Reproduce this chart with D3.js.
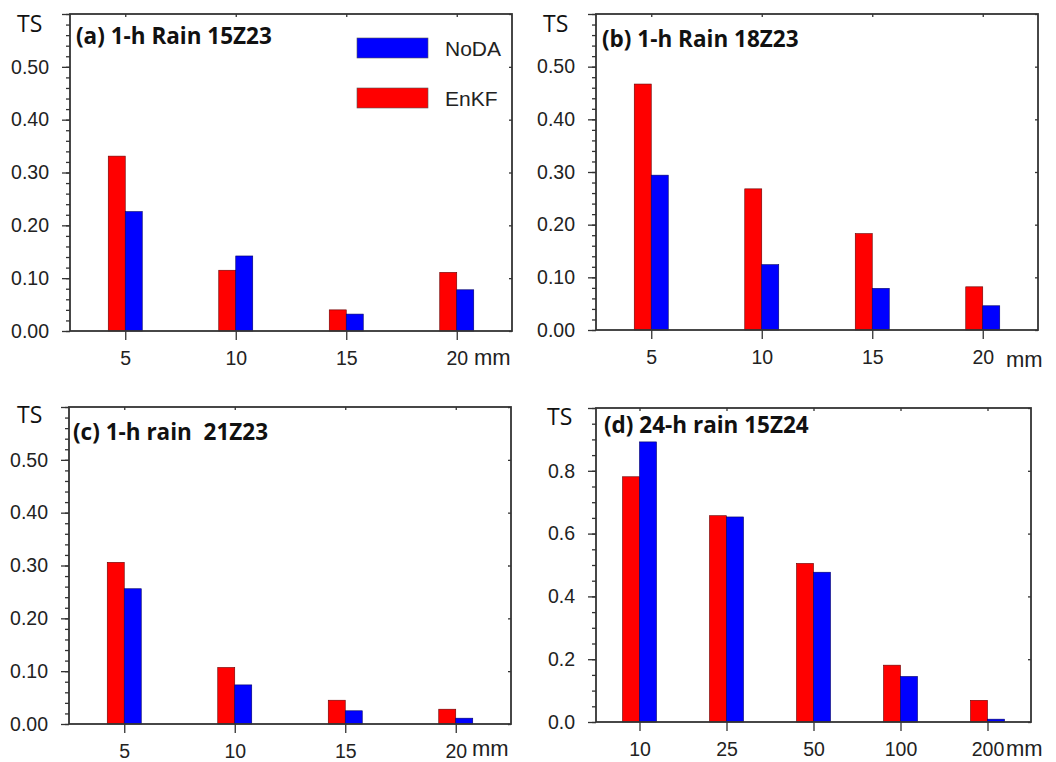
<!DOCTYPE html>
<html>
<head>
<meta charset="utf-8">
<script src="https://cdn.jsdelivr.net/npm/d3@7"></script>
<style>
  body { margin: 0; background: #fff; }
  svg { display: block; }
  .tick text { font-family: "Liberation Sans", Arial, sans-serif; font-size: 19.5px; fill: #222; }
  .tick line { stroke: #333; stroke-width: 1.3; }
  .title { font-family: "Open Sans", sans-serif; font-weight: bold; font-size: 22.5px; fill: #111; white-space: pre; }
  .ts { font-family: "Open Sans", sans-serif; font-size: 23px; fill: #111; }
  .unit { font-family: "Liberation Sans", Arial, sans-serif; font-size: 22px; fill: #222; }
  .legend { font-family: "Liberation Sans", Arial, sans-serif; font-size: 21px; fill: #222; }
</style>
</head>
<body>
<svg id="chart" width="1056" height="762"></svg>
<script>
// Thresholds (mm)
const hourThresholds = ["5", "10", "15", "20"];
const dayThresholds = ["10", "25", "50", "100", "200"];

// TS scores
const enkfA = [0.331, 0.115, 0.040, 0.111];
const nodaA = [0.226, 0.142, 0.032, 0.078];
const enkfB = [0.467, 0.268, 0.183, 0.082];
const nodaB = [0.294, 0.124, 0.079, 0.046];
const enkfC = [0.306, 0.107, 0.045, 0.028];
const nodaC = [0.256, 0.074, 0.025, 0.011];
const enkfD = [0.781, 0.657, 0.505, 0.181, 0.069];
const nodaD = [0.892, 0.653, 0.477, 0.145, 0.009];

// Y ticks
const hourMajor = [0, 0.1, 0.2, 0.3, 0.4, 0.5, 0.6];
const hourMinor = d3.range(0, 0.601, 0.02);
const dayMajor = [0, 0.2, 0.4, 0.6, 0.8, 1.0];
const dayMinor = d3.range(0, 1.001, 0.05);

const seriesNames = ["NoDA", "EnKF"];
const colors = { EnKF: "#ff0000", NoDA: "#0000ff" };

const panels = [
    { title: "(a) 1-h Rain 15Z23", cats: hourThresholds, enkf: enkfA, noda: nodaA,
      major: hourMajor, minor: hourMinor, fmt: d3.format(".2f"), ymax: 0.6,
      box: [70, 14, 512, 331], titlePos: [76, 44], tsPos: [17, 32], unit: [474, 365], legend: true },
    { title: "(b) 1-h Rain 18Z23", cats: hourThresholds, enkf: enkfB, noda: nodaB,
      major: hourMajor, minor: hourMinor, fmt: d3.format(".2f"), ymax: 0.6,
      box: [596, 14, 1038, 330], titlePos: [602, 47], tsPos: [543, 32], unit: [1006, 367] },
    { title: "(c) 1-h rain  21Z23", cats: hourThresholds, enkf: enkfC, noda: nodaC,
      major: hourMajor, minor: hourMinor, fmt: d3.format(".2f"), ymax: 0.6,
      box: [69, 407, 511, 724], titlePos: [73, 440], tsPos: [17, 423], unit: [472, 756] },
    { title: "(d) 24-h rain 15Z24", cats: dayThresholds, enkf: enkfD, noda: nodaD,
      major: dayMajor, minor: dayMinor, fmt: d3.format(".1f"), ymax: 1.0,
      box: [596, 408, 1031, 722], titlePos: [604, 433], tsPos: [547, 425], unit: [1006, 756] }
];

const svg = d3.select("#chart");
const barW = 17;

panels.forEach(p => {
    const [x0, y0, x1, y1] = p.box;
    const g = svg.append("g");

    const x = d3.scalePoint().domain(p.cats).range([x0, x1]).padding(0.5);
    const y = d3.scaleLinear().domain([0, p.ymax]).range([y1, y0]);

    // Bars: EnKF left of the tick, NoDA right of it
    g.selectAll(".enkf")
        .data(p.enkf)
        .enter()
        .append("rect")
        .attr("x", (d, i) => x(p.cats[i]) - barW)
        .attr("y", d => y(d))
        .attr("width", barW)
        .attr("height", d => y(0) - y(d))
        .attr("fill", colors.EnKF)
        .attr("stroke", "#600")
        .attr("stroke-width", 0.6);

    g.selectAll(".noda")
        .data(p.noda)
        .enter()
        .append("rect")
        .attr("x", (d, i) => x(p.cats[i]))
        .attr("y", d => y(d))
        .attr("width", barW)
        .attr("height", d => y(0) - y(d))
        .attr("fill", colors.NoDA)
        .attr("stroke", "#006")
        .attr("stroke-width", 0.6);

    // Minor y ticks
    g.append("g")
        .attr("transform", `translate(${x0},0)`)
        .call(d3.axisLeft(y).tickValues(p.minor).tickSize(4).tickFormat(""))
        .call(a => a.select(".domain").remove())
        .call(a => a.selectAll("line").attr("stroke-width", 1));

    // Major y ticks, top one unlabelled
    g.append("g")
        .attr("transform", `translate(${x0},0)`)
        .call(d3.axisLeft(y).tickValues(p.major).tickSize(8).tickPadding(13)
            .tickFormat(d => d >= p.ymax - 1e-9 ? "" : p.fmt(d)))
        .call(a => a.select(".domain").remove());

    // Right side small inward ticks
    g.append("g")
        .attr("transform", `translate(${x1},0)`)
        .call(d3.axisRight(y).tickValues(p.major).tickSize(-3).tickFormat(""))
        .call(a => a.select(".domain").remove());

    // Bottom x axis
    g.append("g")
        .attr("transform", `translate(0,${y1})`)
        .call(d3.axisBottom(x).tickSize(9).tickPadding(11))
        .call(a => a.select(".domain").remove());

    // Top small inward ticks
    g.append("g")
        .attr("transform", `translate(0,${y0})`)
        .call(d3.axisTop(x).tickSize(-3).tickFormat(""))
        .call(a => a.select(".domain").remove());

    // Frame
    g.append("rect")
        .attr("x", x0).attr("y", y0)
        .attr("width", x1 - x0).attr("height", y1 - y0)
        .attr("fill", "none")
        .attr("stroke", "#333")
        .attr("stroke-width", 1.8);

    g.append("text").attr("class", "title")
        .attr("x", p.titlePos[0]).attr("y", p.titlePos[1])
        .text(p.title);

    g.append("text").attr("class", "ts")
        .attr("x", p.tsPos[0]).attr("y", p.tsPos[1])
        .text("TS");

    g.append("text").attr("class", "unit")
        .attr("x", p.unit[0]).attr("y", p.unit[1])
        .text("mm");

    if (p.legend) {
        const lg = g.append("g");
        seriesNames.forEach((name, i) => {
            lg.append("rect")
                .attr("x", 357).attr("y", 38 + i * 50)
                .attr("width", 71).attr("height", 20)
                .attr("fill", colors[name])
                .attr("stroke", "#555").attr("stroke-width", 0.6);
            lg.append("text").attr("class", "legend")
                .attr("x", 445).attr("y", 56 + i * 50)
                .text(name);
        });
    }
});
</script>
</body>
</html>
